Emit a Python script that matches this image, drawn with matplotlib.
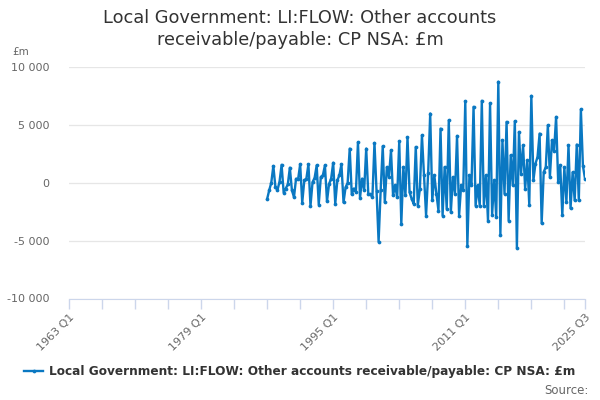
import matplotlib
matplotlib.use("Agg")
import matplotlib.pyplot as plt
from matplotlib.lines import Line2D
from matplotlib.ticker import FuncFormatter, FixedLocator

# ---- data ----
start_year = 1987
start_quarter = 1
values = [
    # 1987-1990
    -1400, -650, 0, 1450, -350, -650, 100, 1550, -850, -500, -150, 1300,
    -650, -1250, 350, 300,
    # 1991-1994
    1600, -1730, 200, 350, 1600, -2000, 50, 430, 1500, -1880, 500, 650,
    1500, -1600, -100, 350,
    # 1995-1999
    1730, -1820, 200, 650, 1600, -1700, -400, 0, 2950, -1000, -500, -800,
    3500, -1300, 350, -650, 2950, -950, -1000, -1250,
    # 2000-2006
    3440, -700, -5100, -660, 3150, -1680, 1360, 500, 2800, -1100, -230, -1240,
    3580, -3555, 1360, -1100, 3930, -810, -1390, -1820, 3090, -1970, -520,
    4100, 640, -2830, 800,
    # 2006-2012
    5980, -1530, 640, -950, -2400, 4680, -2830, 1360, -2250, 5400, -2540, 490,
    -950, 4050, -2830, -230, -660, 7050, -5430, 640, -230, 6560, -1970, -230,
    -1970, 7080,
    # 2013-2018
    -2000, 640, -3270, 6850, -2750, 200, -2980, 8730, -4480, 3670, -950, 5260,
    -3270, 2370, -200, 5320, -5640, 4390, 780, 3240, -520, 1940, -1880, 7510,
    # 2019-2025
    200, 1650, 2230, 4250, -3500, 925, 1360, 4970, 490, 3670, 2700, 5690,
    60, 1500, -2800, 1330, -1680, 3240, -2200, 900, -1530, 3300, -1530, 6340,
    1450, 350,
]
tick_labels = ["1963 Q1", "1979 Q1", "1995 Q1", "2011 Q1", "2025 Q3"]
y_ticks = [-10000, -5000, 0, 5000, 10000]
title = "Local Government: LI:FLOW: Other accounts\nreceivable/payable: CP NSA: £m"
series_name = "Local Government: LI:FLOW: Other accounts receivable/payable: CP NSA: £m"


def qindex(label):
    y, q = label.split(" Q")
    return (int(y) - 1963) * 4 + int(q) - 1


start_idx = (start_year - 1963) * 4 + start_quarter - 1
x = [start_idx + k for k in range(len(values))]
label_pos = [qindex(t) for t in tick_labels]
end_idx = label_pos[-1]
minor_pos = list(range(0, end_idx + 1, 16)) + [end_idx]

line_color = "#0a78c2"
fig = plt.figure(figsize=(6, 4), dpi=100)
ax = fig.add_axes([69 / 600, 1 - 298.5 / 400, (585 - 69) / 600, (298.5 - 67) / 400])

ax.plot(x, values, color=line_color, lw=1.7, marker="o", ms=2.7,
        markeredgewidth=0, solid_joinstyle="round")

ax.set_xlim(0, end_idx)
ax.set_ylim(-10000, 10000)
ax.set_yticks(y_ticks)
ax.yaxis.set_major_formatter(FuncFormatter(lambda v, p: f"{int(v):,}".replace(",", " ")))
ax.grid(axis="y", color="#e6e6e6", lw=0.9)
ax.set_axisbelow(True)

ax.xaxis.set_major_locator(FixedLocator(label_pos))
ax.set_xticklabels(tick_labels, rotation=45, ha="right", rotation_mode="anchor")
ax.xaxis.set_minor_locator(FixedLocator(minor_pos))
ax.tick_params(axis="x", which="both", length=7, color="#ccd6eb", width=1,
               labelsize=8, labelcolor="#666666", pad=3)
ax.tick_params(axis="y", length=0, labelsize=8, labelcolor="#666666", pad=14)

for s in ["top", "right", "left"]:
    ax.spines[s].set_visible(False)
ax.spines["bottom"].set_color("#ccd6eb")

fig.text(0.5, 1 - 29 / 400, title, ha="center", va="center", fontsize=12.8,
         color="#333333", linespacing=1.3)
fig.text(12 / 600, 1 - 52 / 400, "£m", ha="left", va="center", fontsize=7.5, color="#666666")

handle = Line2D([0], [0], color=line_color, lw=1.7, marker="o", ms=2.7, markeredgewidth=0)
fig.legend([handle], [series_name], loc="center", bbox_to_anchor=(0.5, 1 - 372 / 400),
           frameon=False, prop={"weight": "bold", "size": 8.7}, handlelength=1.6,
           handletextpad=0.5, labelcolor="#333333")
fig.text(589 / 600, 1 - 391 / 400, "Source:", ha="right", va="center", fontsize=8.5, color="#666666")

fig.savefig("out.png", dpi=100)
